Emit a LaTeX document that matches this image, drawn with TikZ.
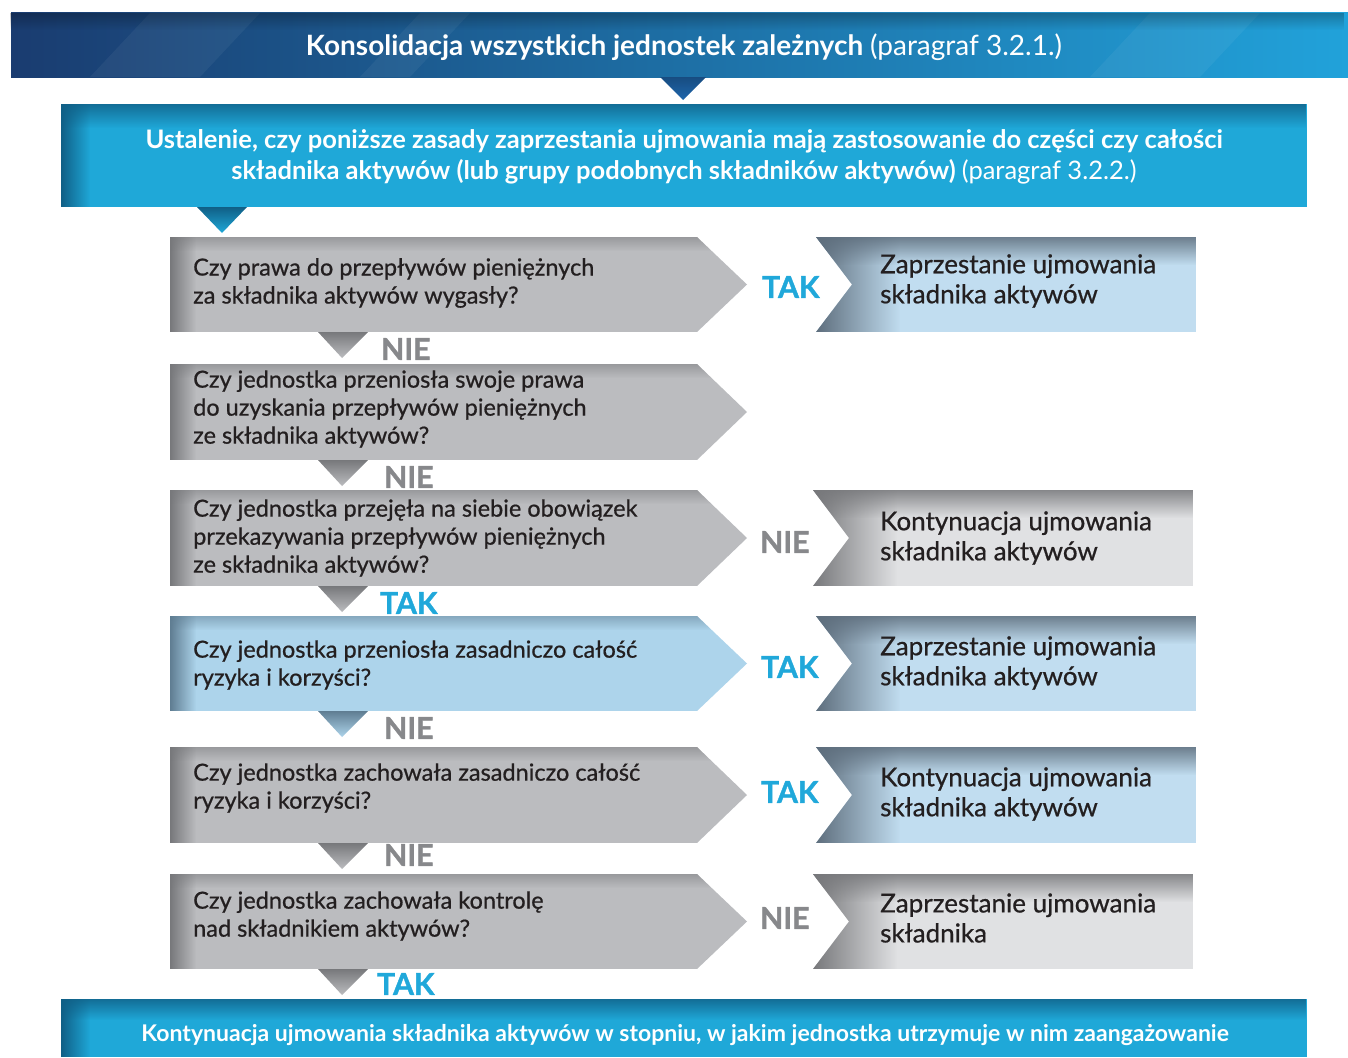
\documentclass[tikz,border=0pt]{standalone}
\usepackage{fontspec}
\setmainfont{Lato}
\newfontfamily\latomed[FakeBold=0.7]{Lato}
\newfontfamily\latolbl[BoldFeatures={FakeBold=1.2}]{Lato}
\usetikzlibrary{fadings}
\definecolor{txt}{HTML}{231F20}
\definecolor{cyanb}{HTML}{1FA8D8}
\definecolor{cyand}{HTML}{105F86}
\definecolor{navyA}{HTML}{1A3C70}
\definecolor{navyB}{HTML}{1F66AC}
\definecolor{navyC}{HTML}{21A2DA}
\definecolor{grayq}{HTML}{BBBCBF}
\definecolor{grayd}{HTML}{77787B}
\definecolor{blueq}{HTML}{ADD4EB}
\definecolor{blueqd}{HTML}{5F7D92}
\definecolor{lblue}{HTML}{C1DDF0}
\definecolor{lbluedk}{HTML}{5E6E7D}
\definecolor{lgray}{HTML}{E0E1E3}
\definecolor{lgraydk}{HTML}{77787B}
\definecolor{takc}{HTML}{20A8DA}
\definecolor{niec}{HTML}{87888B}
\tikzset{
  qtext/.style={anchor=west, align=left, text=txt, font=\latomed\fontsize{23.5}{28}\selectfont, inner sep=0pt},
  rtext/.style={anchor=west, align=left, text=txt, font=\latomed\fontsize{26}{30}\selectfont, inner sep=0pt},
  taklbl/.style={text=takc, font=\latolbl\bfseries\fontsize{30}{30}\selectfont, inner sep=0pt},
  nielbl/.style={text=niec, font=\latolbl\bfseries\fontsize{30}{30}\selectfont, inner sep=0pt},
  bantext/.style={text=white, align=center, inner sep=0pt},
}
% question box: #1 top y, #2 bottom y, #3 fill, #4 shade colour
\newcommand{\qbox}[4]{%
  \begin{scope}
    \path[clip] (170,#1) -- (697,#1) -- (747,{(#1+#2)/2}) -- (697,#2) -- (170,#2) -- cycle;
    \fill[#3] (170,#1) rectangle (750,#2);
    \fill[#4, path fading=east] (170,#1) rectangle (196,#2);
    \fill[#4, opacity=0.5, path fading=south] (170,#1) rectangle (750,{#1+14});
  \end{scope}
  \shade[top color=#4, bottom color=#3] (318,#2) -- (368,#2) -- (342,{#2+26}) -- cycle;
}
% answer box: #1 top y, #2 bottom y, #3 fill, #4 shade colour, #5 x shift
\newcommand{\abox}[5]{%
  \begin{scope}[xshift=#5]
    \path[clip] (816,#1) -- (1196,#1) -- (1196,#2) -- (816,#2) -- (852,{(#1+#2)/2}) -- cycle;
    \fill[#3] (810,#1) rectangle (1196,#2);
    \fill[#4, path fading=east] (816,#1) rectangle (900,#2);
    \fill[#4, opacity=0.85, path fading=south] (810,#1) rectangle (1196,{#1+28});
  \end{scope}
}
\begin{document}
\begin{tikzpicture}[x=1pt,y=-1pt]
\useasboundingbox (0,0) rectangle (1348,1057);
% top banner
\shade[left color=navyA, middle color=navyB, right color=navyC] (11,13) rectangle (1348,77);
\fill[white, opacity=0.05] (150,13) -- (260,13) -- (200,77) -- (90,77) -- cycle;
\fill[white, opacity=0.05] (420,13) -- (470,13) -- (410,77) -- (360,77) -- cycle;
\fill[white, opacity=0.05] (1150,13) -- (1260,13) -- (1200,77) -- (1090,77) -- cycle;
\fill[black, opacity=0.25, path fading=south] (11,13) rectangle (1348,30);
\shade[top color=navyB!75!black, bottom color=navyB] (660,77) -- (706,77) -- (683,100) -- cycle;
\node[bantext, font=\fontsize{28}{30}\selectfont] (t1) at (684,47) {\textbf{Konsolidacja wszystkich jednostek zależnych} (paragraf 3.2.1.)};
% second banner
\fill[cyanb] (61,104) rectangle (1307,207);
\fill[cyand, opacity=0.8, path fading=south] (61,104) rectangle (1307,128);
\fill[cyand, path fading=east] (61,104) rectangle (90,207);
\shade[top color=cyand, bottom color=cyanb] (197,207) -- (247,207) -- (222,233) -- cycle;
\node[bantext, font=\fontsize{25.5}{31}\selectfont] (t2) at (684,157) {\textbf{Ustalenie, czy poniższe zasady zaprzestania ujmowania mają zastosowanie do części czy całości}\\\textbf{składnika aktywów (lub grupy podobnych składników aktywów)} (paragraf 3.2.2.)};
% question boxes
\qbox{237}{332}{grayq}{grayd}
\qbox{364}{460}{grayq}{grayd}
\qbox{490}{586}{grayq}{grayd}
\qbox{616}{711}{blueq}{blueqd}
\qbox{747}{843}{grayq}{grayd}
\qbox{874}{969}{grayq}{grayd}
\node[qtext] (q1) at (193,283) {Czy prawa do przepływów pieniężnych\\za składnika aktywów wygasły?};
\node[qtext] (q2) at (193,409) {Czy jednostka przeniosła swoje prawa\\do uzyskania przepływów pieniężnych\\ze składnika aktywów?};
\node[qtext] (q3) at (193,538) {Czy jednostka przejęła na siebie obowiązek\\przekazywania przepływów pieniężnych\\ze składnika aktywów?};
\node[qtext] (q4) at (193,665) {Czy jednostka przeniosła zasadniczo całość\\ryzyka i korzyści?};
\node[qtext] (q5) at (193,788) {Czy jednostka zachowała zasadniczo całość\\ryzyka i korzyści?};
\node[qtext] (q6) at (193,916) {Czy jednostka zachowała kontrolę\\nad składnikiem aktywów?};
% down labels
\node[nielbl, anchor=west] (d1) at (381,349) {NIE};
\node[nielbl, anchor=west] (d2) at (384,477) {NIE};
\node[taklbl, anchor=west] (d3) at (380,603) {TAK};
\node[nielbl, anchor=west] (d4) at (384,728) {NIE};
\node[nielbl, anchor=west] (d5) at (384,855) {NIE};
\node[taklbl, anchor=west] (d6) at (377,984) {TAK};
% answer boxes
\abox{237}{332}{lblue}{lbluedk}{0}
\abox{490}{586}{lgray}{lgraydk}{-3}
\abox{616}{711}{lblue}{lbluedk}{0}
\abox{747}{843}{lblue}{lbluedk}{0}
\abox{874}{969}{lgray}{lgraydk}{-3}
\node[rtext] (a1) at (880,281) {Zaprzestanie ujmowania\\składnika aktywów};
\node[rtext] (a3) at (880,538) {Kontynuacja ujmowania\\składnika aktywów};
\node[rtext] (a4) at (880,663) {Zaprzestanie ujmowania\\składnika aktywów};
\node[rtext] (a5) at (880,794) {Kontynuacja ujmowania\\składnika aktywów};
\node[rtext] (a6) at (880,918) {Zaprzestanie ujmowania\\składnika};
% side labels
\node[taklbl, anchor=west] (s1) at (762,287) {TAK};
\node[nielbl, anchor=west] (s3) at (760,542) {NIE};
\node[taklbl, anchor=west] (s4) at (761,667) {TAK};
\node[taklbl, anchor=west] (s5) at (761,792) {TAK};
\node[nielbl, anchor=west] (s6) at (760,918) {NIE};
% bottom banner
\fill[cyanb] (61,999) rectangle (1307,1057);
\fill[cyand, opacity=0.8, path fading=south] (61,999) rectangle (1307,1020);
\fill[cyand, path fading=east] (61,999) rectangle (90,1057);
\node[bantext, font=\bfseries\fontsize{23}{26}\selectfont] (t3) at (685,1035) {Kontynuacja ujmowania składnika aktywów w stopniu, w jakim jednostka utrzymuje w nim zaangażowanie};
\end{tikzpicture}
\end{document}
